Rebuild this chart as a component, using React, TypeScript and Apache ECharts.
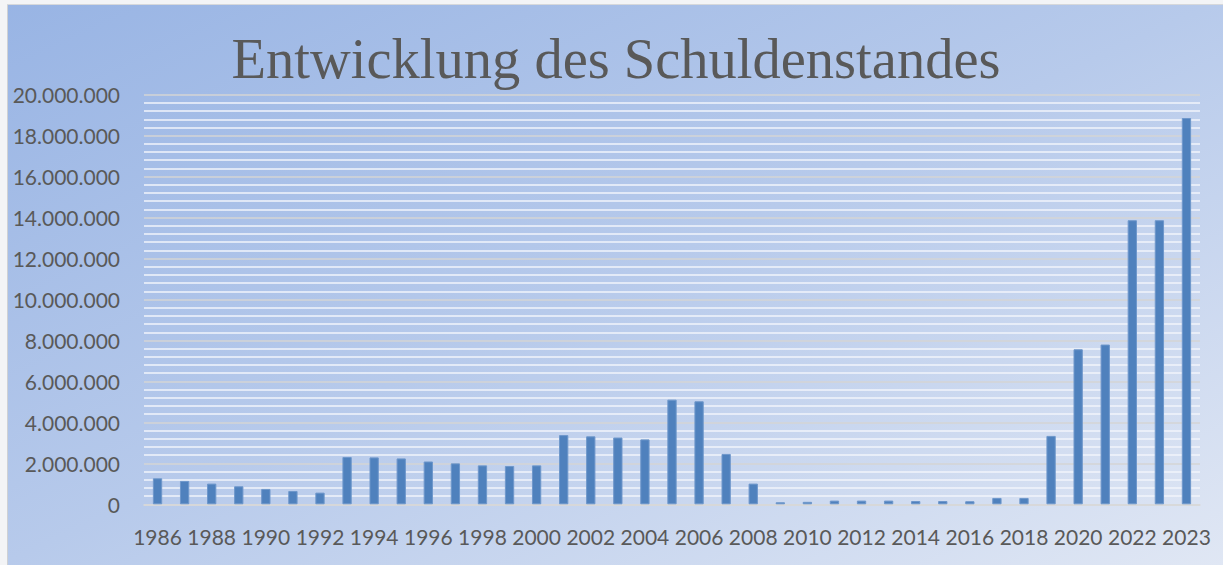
import React, { useEffect, useRef } from "react";
import * as echarts from "echarts";

const years: string[] = [
  "1986", "1987", "1988", "1989", "1990", "1991", "1992", "1993", "1994", "1995",
  "1996", "1997", "1998", "1999", "2000", "2001", "2002", "2003", "2004", "2005",
  "2006", "2007", "2008", "2009", "2010", "2011", "2012", "2013", "2014", "2015",
  "2016", "2017", "2018", "2019", "2020", "2021", "2022", "2022", "2023",
];

const schuldenstand: number[] = [
  1270000, 1140000, 1010000, 880000, 750000, 650000, 570000, 2310000, 2290000, 2240000,
  2090000, 2000000, 1900000, 1870000, 1900000, 3380000, 3320000, 3260000, 3170000, 5110000,
  5030000, 2460000, 1010000, 100000, 120000, 180000, 180000, 180000, 160000, 160000,
  150000, 310000, 310000, 3340000, 7570000, 7800000, 13870000, 13870000, 18860000,
];

const yTicks: number[] = [0, 2000000, 4000000, 6000000, 8000000, 10000000, 12000000, 14000000, 16000000, 18000000, 20000000];

const fmt = (v: number) => (v === 0 ? "0" : String(Math.round(v)).replace(/\B(?=(\d{3})+(?!\d))/g, "."));

export default function App() {
  const ref = useRef<HTMLDivElement>(null);
  useEffect(() => {
    if (!ref.current) return;
    const chart = echarts.init(ref.current, undefined, { renderer: "svg" });
    chart.setOption({
      animation: false,
      backgroundColor: new echarts.graphic.LinearGradient(0, 0, 1, 1, [
        { offset: 0, color: "#98b4e4" },
        { offset: 0.5, color: "#b7caeb" },
        { offset: 1, color: "#e0e7f4" },
      ]),
      title: {
        text: "Entwicklung des Schuldenstandes",
        left: 611,
        textAlign: "center",
        top: 25,
        textStyle: {
          fontFamily: "Liberation Serif",
          fontSize: 56.5,
          fontWeight: "normal",
          color: "#595959",
        },
      },
      graphic: [
        { type: "rect", shape: { x: 0, y: 0, width: 7, height: 565 }, style: { fill: "#f3f4f6" } },
        { type: "rect", shape: { x: 0, y: 0, width: 1223, height: 4 }, style: { fill: "#f3f4f6" } },
        { type: "line", shape: { x1: 7.5, y1: 4, x2: 7.5, y2: 565 }, style: { stroke: "#cfd1d4", lineWidth: 1 } },
        { type: "line", shape: { x1: 7, y1: 4.5, x2: 1223, y2: 4.5 }, style: { stroke: "#d6d8db", lineWidth: 1 } },
      ],
      grid: { left: 144, right: 23, top: 94.7, bottom: 60.7, containLabel: false },
      xAxis: {
        type: "category",
        data: years,
        axisLine: { show: true, lineStyle: { color: "#d9d9d9", width: 1.5 } },
        axisTick: { show: false },
        axisLabel: {
          interval: 1,
          margin: 22,
          fontFamily: "Lato",
          fontSize: 21,
          color: "#595959",
        },
      },
      yAxis: {
        type: "value",
        min: yTicks[0],
        max: yTicks[yTicks.length - 1],
        interval: yTicks[1] - yTicks[0],
        axisLine: { show: false },
        axisTick: { show: false },
        axisLabel: {
          margin: 24,
          fontFamily: "Lato",
          fontSize: 21,
          color: "#595959",
          formatter: (v: number) => fmt(v),
        },
        splitLine: { show: true, lineStyle: { color: "#d4d4d4", width: 1.5 } },
        minorTick: { show: false, splitNumber: 5 },
        minorSplitLine: { show: true, lineStyle: { color: "#f2f5fb", width: 1.5 } },
      },
      series: [
        {
          type: "bar",
          data: schuldenstand,
          barWidth: 9.3,
          itemStyle: { color: "#4f81bd", borderColor: "#6e97cb", borderWidth: 1 },
        },
      ],
    });
    return () => chart.dispose();
  }, []);
  return (
    <div style={{ position: "fixed", left: 0, top: 0, width: 1223, height: 565 }}>
      <div ref={ref} style={{ width: 1223, height: 565 }} />
    </div>
  );
}
